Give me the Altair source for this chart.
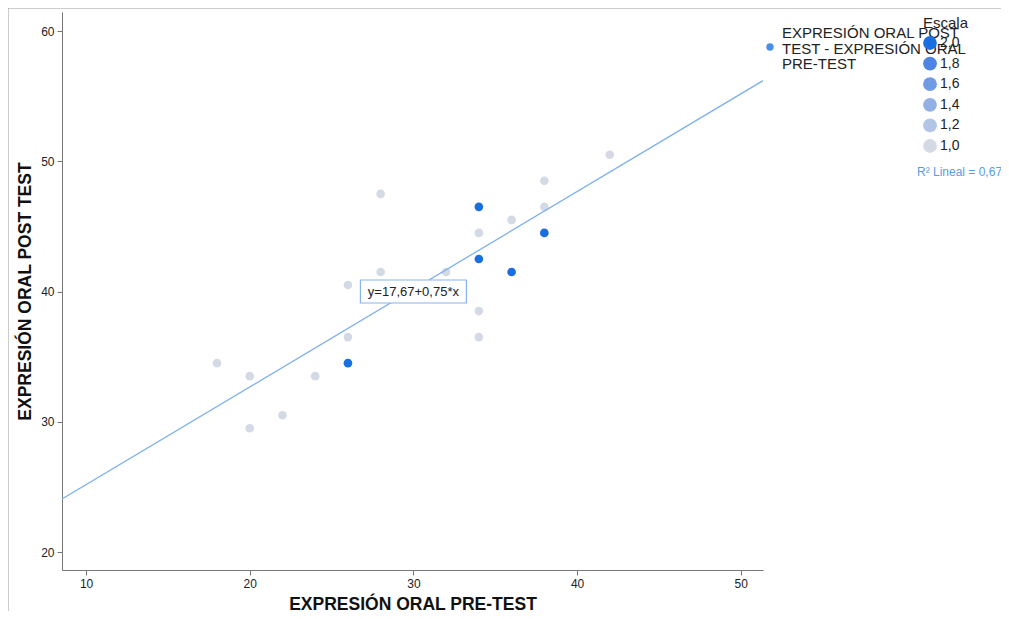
import altair as alt
import pandas as pd

# Data
pre_test = [18, 20, 20, 22, 24, 26, 26, 28, 28, 32, 34, 34, 34, 36, 38, 38, 42,
            26, 34, 34, 36, 38]
post_test = [34.5, 33.5, 29.5, 30.5, 33.5, 40.5, 36.5, 47.5, 41.5, 41.5, 44.5, 38.5, 36.5, 45.5, 48.5, 46.5, 50.5,
             34.5, 46.5, 42.5, 41.5, 44.5]
escala = [1.0] * 17 + [2.0] * 5

intercept = 17.67
slope = 0.75
r2_text = "R\u00b2 Lineal = 0,675"
eq_text = "y=17,67+0,75*x"
eq_pos_x = [30]
eq_pos_y = [40]

x_domain = [8.53, 51.36]
y_domain = [18.62, 61.46]
x_ticks = [10, 20, 30, 40, 50]
y_ticks = [20, 30, 40, 50, 60]
legend_values = [2.0, 1.8, 1.6, 1.4, 1.2, 1.0]
series_label = ["EXPRESIÓN ORAL POST", "TEST - EXPRESIÓN ORAL", "PRE-TEST"]

FONT = "Liberation Sans"
W, H = 701, 558

df = pd.DataFrame({"pre": pre_test, "post": post_test, "Escala": escala})
line_df = pd.DataFrame({"pre": x_domain,
                        "post": [intercept + slope * v for v in x_domain]})
eq_df = pd.DataFrame({"pre": eq_pos_x, "post": eq_pos_y, "label": [eq_text]})

xs = alt.Scale(domain=x_domain, nice=False, zero=False)
ys = alt.Scale(domain=y_domain, nice=False, zero=False)

x_axis = alt.Axis(values=x_ticks, title="EXPRESIÓN ORAL PRE-TEST", grid=False,
                  titlePadding=6)
y_axis = alt.Axis(values=y_ticks, title="EXPRESIÓN ORAL POST TEST", grid=False,
                  titlePadding=6)

points = alt.Chart(df).mark_circle(size=75, opacity=1).encode(
    x=alt.X("pre:Q", scale=xs, axis=x_axis),
    y=alt.Y("post:Q", scale=ys, axis=y_axis),
    color=alt.Color(
        "Escala:Q",
        scale=alt.Scale(domain=[1, 2], range=["#d3dae5", "#1a6fe0"]),
        legend=alt.Legend(
            type="symbol", values=legend_values, orient="none",
            legendX=861, legendY=4, title="Escala", titleFontSize=15,
            titleFontWeight="normal", titleColor="#222", titleFont=FONT,
            titlePadding=5, symbolType="circle", symbolSize=190,
            symbolStrokeWidth=0, labelFontSize=14, labelFont=FONT,
            labelColor="#222", labelOffset=3, rowPadding=6.6,
            labelExpr="replace(format(datum.value, '.1f'), '.', ',')",
        ),
    ),
    order=alt.Order("Escala:Q"),
)

reg_line = alt.Chart(line_df).mark_line(color="#7fb0ee", strokeWidth=1.3, clip=True).encode(
    x=alt.X("pre:Q", scale=xs), y=alt.Y("post:Q", scale=ys)
)

eq_box = alt.Chart(eq_df).mark_rect(
    fill="white", stroke="#8ab4f0", strokeWidth=1.2,
    xOffset=-53, x2Offset=53, yOffset=-11.5, y2Offset=11.5,
).encode(
    x=alt.X("pre:Q", scale=xs), x2="pre:Q",
    y=alt.Y("post:Q", scale=ys), y2="post:Q",
)

eq_label = alt.Chart(eq_df).mark_text(
    font=FONT, fontSize=13, color="#222", align="center", baseline="middle"
).encode(x=alt.X("pre:Q", scale=xs), y=alt.Y("post:Q", scale=ys), text="label:N")

ann_df = pd.DataFrame({"k": [0]})
series_dot = alt.Chart(ann_df).mark_circle(size=55, color="#4a8fe6", opacity=1).encode(
    x=alt.value(708), y=alt.value(35)
)
series_text = alt.Chart(ann_df).mark_text(
    font=FONT, fontSize=15, color="#222", align="left", baseline="top",
    lineHeight=15.5, text=series_label
).encode(x=alt.value(720), y=alt.value(14))

r2 = alt.Chart(ann_df).mark_text(
    font=FONT, fontSize=12, color="#5b9ae8", align="left", baseline="middle", text=r2_text
).encode(x=alt.value(855), y=alt.value(160))

border_top = alt.Chart(ann_df).mark_rule(color="#999", strokeWidth=1).encode(
    x=alt.value(-54), x2=alt.value(W + 238), y=alt.value(-4)
)
border_left = alt.Chart(ann_df).mark_rule(color="#999", strokeWidth=1).encode(
    x=alt.value(-54), y=alt.value(-4), y2=alt.value(H + 41)
)

chart = alt.layer(
    border_top, border_left, points, reg_line, eq_box, eq_label,
    series_dot, series_text, r2
).properties(
    width=W, height=H,
    autosize=alt.AutoSizeParams(type="none"),
    padding={"left": 54, "top": 4, "right": 238, "bottom": 41},
).configure_view(stroke=None).configure_axis(
    domainColor="#777", tickColor="#777", tickSize=5,
    labelFont=FONT, labelFontSize=12, labelColor="#222", labelPadding=3,
    titleFont=FONT, titleFontSize=17.5, titleFontWeight="bold", titleColor="#111",
)

chart.save("out.html", embed_options={"renderer": "svg", "actions": False})
